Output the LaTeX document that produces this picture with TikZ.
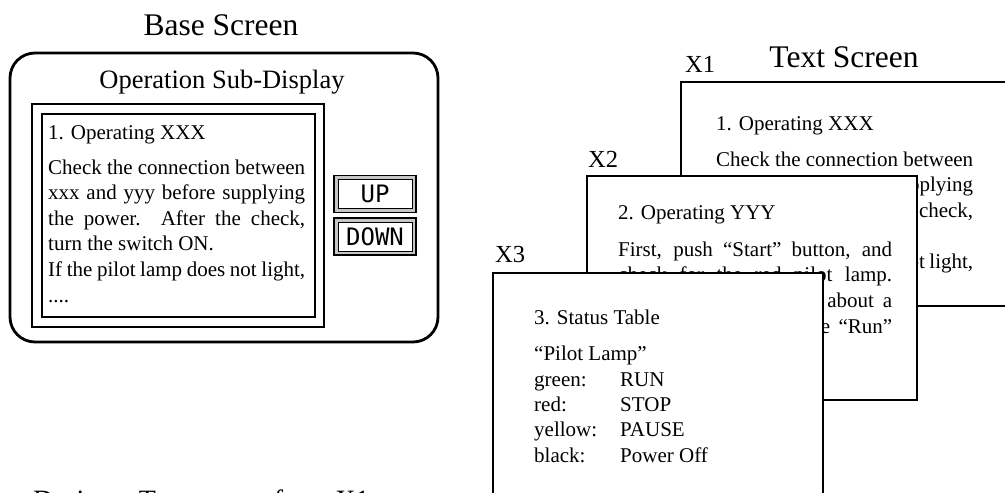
\documentclass[tikz,border=0pt]{standalone}
\usepackage{fontspec}
\setmainfont{Liberation Serif}
\newfontfamily\keyfont{DejaVu Sans Mono}
\usetikzlibrary{positioning,calc}
\newcommand\spreadline[2]{\makebox[#1][s]{#2}}

\begin{document}
\begin{tikzpicture}[
  x=1pt, y=-1pt,
  title/.style={font=\fontsize{31.5}{32}\selectfont, inner sep=0pt, anchor=base},
  tag/.style={font=\fontsize{24.5}{25}\selectfont, inner sep=0pt, anchor=base west},
  body/.style={font=\fontsize{21}{25.6}\selectfont, inner sep=0pt,
    anchor=base west, align=left},
  page/.style={draw, line width=2.6pt, fill=white, minimum width=330pt,
    minimum height=224pt, anchor=north west, inner sep=0pt, outer sep=0pt},
  frame/.style={draw, line width=1.1pt, anchor=north west, inner sep=0pt, outer sep=0pt},
  key/.style={draw, line width=1.8pt, fill=gray!45, minimum width=82pt,
    minimum height=37pt, inner sep=0pt},
  keyface/.style={draw, line width=0.8pt, fill=white, minimum width=74pt,
    minimum height=29pt, inner sep=0pt, font=\keyfont\fontsize{24}{24}\selectfont},
  ]
  \clip (0,0) rectangle (1005,493);

  % Base screen with the sub-display.
  \node[title] (basettl) at (221,35) {Base Screen};
  \node[draw, line width=2.8pt, rounded corners=25pt, minimum width=428pt,
    minimum height=289pt, anchor=north west, outer sep=0pt] (base) at (10,53) {};
  \node[font=\fontsize{26.5}{27}\selectfont, inner sep=0pt, anchor=base] (subttl)
    at (222,88) {Operation Sub-Display};
  \node[frame, minimum width=292pt, minimum height=223pt] (subout) at (32,104) {};
  \node[frame, minimum width=273pt, minimum height=203pt] (subin) at (42,114) {};
  % (base anchor = last line)
  \node[body] (subtxt) at (48,302) {1. Operating XXX\\[9.4pt]
    \spreadline{257pt}{Check the connection between}\\
    \spreadline{257pt}{xxx and yyy before supplying}\\
    \spreadline{257pt}{the power.\ \ After the check,}\\
    turn the switch ON.\\
    \spreadline{257pt}{If the pilot lamp does not light,}\\
    ....};

  % Scroll keys.
  \node[key] (upkey) at (375,194) {};
  \node[keyface] (up) at (upkey) {UP};
  \node[key] (downkey) at (375,236.5) {};
  \node[keyface] (down) at (downkey) {DOWN};

  % Text screens X1, X2, X3.
  \node[title] (txtttl) at (844,67) {Text Screen};
  \node[tag] (x1) at (685,72) {X1};
  \node[page] (scr1) at (681,82) {};
  \node[body] (txt1) at (716,294) {1. Operating XXX\\[10.4pt]
    \spreadline{257pt}{Check the connection between}\\
    \spreadline{257pt}{xxx and yyy before supplying}\\
    \spreadline{257pt}{the power.\ \ After the check,}\\
    turn the switch ON.\\
    \spreadline{257pt}{If the pilot lamp does not light,}\\
    ....};

  \node[tag] (x2) at (588,167) {X2};
  \node[page] (scr2) at (587,176) {};
  \node[body] (txt2) at (618,333) {2. Operating YYY\\[11.4pt]
    \spreadline{274pt}{First, push ``Start'' button, and}\\
    \spreadline{274pt}{check for the red pilot lamp.}\\
    \spreadline{274pt}{It will turn green after about a}\\
    \spreadline{274pt}{second, and indicate the ``Run''}};

  \node[tag] (x3) at (495,262) {X3};
  \node[page] (scr3) at (493,273) {};
  \node[body, font=\fontsize{21}{25.3}\selectfont] (txt3) at (534,462)
    {3. Status Table\\[10.7pt]
    ``Pilot Lamp''\\
    \makebox[86pt][l]{green:}RUN\\
    \makebox[86pt][l]{red:}STOP\\
    \makebox[86pt][l]{yellow:}PAUSE\\
    \makebox[86pt][l]{black:}Power Off};

  % Caption, cut by the lower edge.
  \node[font=\fontsize{28}{28}\selectfont, inner sep=0pt, anchor=base west] (cap)
    at (33,509.5) {Design a Text screen from X1};
\end{tikzpicture}
\end{document}
